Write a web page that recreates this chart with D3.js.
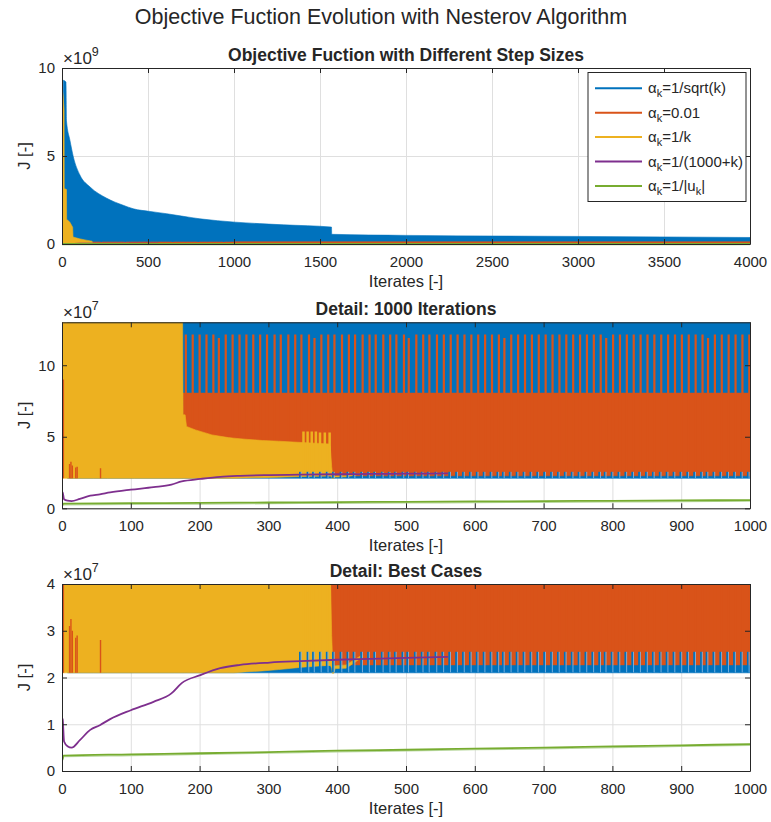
<!DOCTYPE html>
<html>
<head>
<meta charset="utf-8">
<script src="https://cdn.jsdelivr.net/npm/d3@7"></script>
<style>
body { margin: 0; background: #fff; }
svg text { font-family: "Liberation Sans", Arial, Helvetica, sans-serif; fill: #262626; }
</style>
</head>
<body>
<svg id="fig" width="771" height="822"></svg>
<script>
// envelopes of the dense oscillations: [iterate, lower J, upper J]
let blueEnv = [
  [8, 2.1e7, 9.3e9], [23, 2.1e7, 9.2e9], [26, 2.1e7, 7.0e9], [46, 2.1e7, 5.9e9],
  [66, 2.1e7, 4.95e9], [105, 2.1e7, 3.9e9], [163, 2.1e7, 3.24e9], [260, 2.1e7, 2.6e9],
  [356, 2.1e7, 2.2e9], [415, 2.1e7, 2.0e9], [512, 2.1e7, 1.85e9], [609, 2.1e7, 1.72e9],
  [802, 2.1e7, 1.43e9], [1008, 2.1e7, 1.24e9], [1287, 2.1e7, 1.09e9], [1567, 2.1e7, 0.96e9],
  [1568, 2.1e7, 0.55e9], [2000, 2.1e7, 0.49e9], [3000, 2.1e7, 0.43e9], [4000, 2.1e7, 0.37e9]
];
let orangeEnv = [
  [176, 2.27e7, 8.05e7], [1000, 2.27e7, 8.05e7], [1001, 2.27e7, 1.25e8], [4000, 2.27e7, 1.25e8]
];
let yellowEnv = [
  [0, 2.1e7, 8.8e9], [6, 2.1e7, 8.5e9], [12, 2.1e7, 7.6e9], [13, 2.1e7, 3.15e9],
  [26, 2.1e7, 3.1e9], [27, 2.1e7, 1.4e9], [45, 2.1e7, 1.25e9], [62, 2.1e7, 0.95e9],
  [64, 2.1e7, 0.4e9], [100, 2.1e7, 0.3e9], [140, 2.1e7, 0.22e9], [175, 2.1e7, 0.16e9],
  [176, 2.1e7, 6.53e7], [179, 2.1e7, 6.53e7], [181, 2.1e7, 5.72e7], [194, 2.1e7, 5.48e7],
  [218, 2.1e7, 5.13e7], [242, 2.1e7, 4.94e7], [250, 2.1e7, 4.9e7], [266, 2.12e7, 4.83e7],
  [291, 2.14e7, 4.74e7], [315, 2.17e7, 4.69e7], [349, 2.22e7, 4.6e7], [388, 2.26e7, 4.5e7],
  [390, 2.26e7, 4.3e7], [392, 2.2e7, 2.9e7], [393, 2.09e7, 2.5e7], [395, 2.09e7, 2.25e7],
  [397, 2.19e7, 2.25e7], [413, 2.2e7, 2.27e7], [436, 2.43e7, 2.48e7], [437, 2.45e7, 2.46e7]
];
// periodic peaks of the 0.01 step case: [iterate, peak J]
let orangeSpikes = [
  [180, 12.15e7], [190, 12.15e7], [200, 12.15e7], [210, 12.15e7], [220, 12.15e7], [228, 11.9e7],
  [238, 12.15e7], [248, 12.15e7], [258, 12.15e7], [268, 12.15e7], [278, 12.15e7], [288, 12.15e7],
  [298, 12.15e7], [309, 12.15e7], [318, 12.15e7], [329, 12.15e7], [339, 12.15e7], [348, 12.15e7],
  [359, 12.15e7], [367, 11.9e7], [377, 12.15e7], [387, 12.15e7], [396, 12.15e7], [407, 12.15e7],
  [417, 12.15e7], [426, 12.15e7], [437, 12.15e7], [447, 12.15e7], [456, 12.15e7], [467, 12.15e7],
  [477, 12.15e7], [486, 12.15e7], [497, 12.15e7], [504, 11.9e7], [515, 12.15e7], [525, 12.15e7],
  [534, 12.15e7], [545, 12.15e7], [555, 12.15e7], [565, 12.15e7], [575, 12.15e7], [585, 12.15e7],
  [595, 12.15e7], [605, 12.15e7], [615, 12.15e7], [625, 12.15e7], [635, 12.15e7], [643, 11.9e7],
  [653, 12.15e7], [663, 12.15e7], [673, 12.15e7], [683, 12.15e7], [693, 12.15e7], [703, 12.15e7],
  [713, 12.15e7], [723, 12.15e7], [733, 12.15e7], [743, 12.15e7], [753, 12.15e7], [763, 12.15e7],
  [773, 12.15e7], [783, 12.15e7], [791, 11.9e7], [801, 12.15e7], [811, 12.15e7], [821, 12.15e7],
  [831, 12.15e7], [841, 12.15e7], [851, 12.15e7], [861, 12.15e7], [871, 12.15e7], [881, 12.15e7],
  [891, 12.15e7], [901, 12.15e7], [911, 12.15e7], [921, 12.15e7], [931, 12.15e7], [939, 11.9e7],
  [949, 12.15e7], [959, 12.15e7], [969, 12.15e7], [979, 12.15e7], [989, 12.15e7], [999, 12.15e7]
];
let orangeEarly = [[2, 9.0e7], [11, 3.1e7], [13, 3.25e7], [15, 3.0e7], [20, 2.85e7], [22, 2.9e7], [56, 2.8e7]];
let yellowSpikes = [[351, 5.36e7], [357, 5.36e7], [363, 5.36e7], [369, 5.36e7], [375, 5.3e7], [382, 5.3e7], [389, 5.3e7]];
// small teeth of the 1/sqrt(k) case near the bottom of the band
let blueTeethLo = 2.11e7, blueTeethHi = 2.55e7, blueTeethFrom = 345;

let purpleIter = [0, 1, 3, 8, 14, 26, 41, 55, 70, 100, 133, 159, 174, 201, 230, 259, 302, 346, 400, 450, 500, 561];
let purpleJ = [1.13e7, 1.1e7, 0.63e7, 0.53e7, 0.5e7, 0.66e7, 0.88e7, 0.98e7, 1.11e7, 1.3e7, 1.48e7, 1.66e7,
  1.88e7, 2.05e7, 2.2e7, 2.27e7, 2.32e7, 2.35e7, 2.38e7, 2.4e7, 2.42e7, 2.44e7];
let greenIter = [0, 1, 2, 100, 200, 300, 400, 500, 600, 700, 800, 900, 1000, 4000];
let greenJ = [0.25e7, 0.26e7, 0.33e7, 0.355e7, 0.38e7, 0.405e7, 0.435e7, 0.455e7, 0.48e7, 0.5e7, 0.525e7, 0.55e7, 0.575e7, 1.0e7];

let legendNames = ["1/sqrt(k)", "0.01", "1/k", "1/(1000+k)", "1/|u"];
let xTicksFull = [0, 500, 1000, 1500, 2000, 2500, 3000, 3500, 4000];
let xTicksDetail = [0, 100, 200, 300, 400, 500, 600, 700, 800, 900, 1000];
let yTicks1 = [0, 5e9, 10e9];
let yTicks2 = [0, 5e7, 10e7];
let yTicks3 = [0, 1e7, 2e7, 3e7, 4e7];

let colors = ["#0072BD", "#D95319", "#EDB120", "#7E2F8E", "#77AC30"];
let L = 62, R = 750;
let panels = [
  {title: "Objective Fuction with Different Step Sizes", xmax: 4000, xt: xTicksFull, ymax: 10e9, yt: yTicks1, ex: 9, top: 68, bottom: 244},
  {title: "Detail: 1000 Iterations", xmax: 1000, xt: xTicksDetail, ymax: 13e7, yt: yTicks2, ex: 7, top: 322.3, bottom: 508.3},
  {title: "Detail: Best Cases", xmax: 1000, xt: xTicksDetail, ymax: 4e7, yt: yTicks3, ex: 7, top: 584, bottom: 771}
];

let svg = d3.select("#fig");
let defs = svg.append("defs");

svg.append("text").attr("x", 381).attr("y", 24).attr("text-anchor", "middle")
  .style("font-size", "21.5px").text("Objective Fuction Evolution with Nesterov Algorithm");

let style_axis = function(s) {
  s.select(".domain").attr("stroke", "#262626").attr("stroke-width", 1);
  s.selectAll(".tick line").attr("stroke", "#262626").attr("stroke-width", 1);
  s.selectAll(".tick text").style("font-size", "15px").attr("fill", "#262626");
};

panels.forEach(function(p, i) {
  let x = d3.scaleLinear().domain([0, p.xmax]).range([L, R]);
  let y = d3.scaleLinear().domain([0, p.ymax]).range([p.bottom, p.top]);
  let g = svg.append("g");
  let h = p.bottom - p.top;

  defs.append("clipPath").attr("id", "clip" + i).append("rect")
    .attr("x", L).attr("y", p.top).attr("width", R - L).attr("height", h + 1.5);

  //grid
  g.append("g").attr("transform", "translate(0," + p.bottom + ")")
    .call(d3.axisBottom(x).tickValues(p.xt).tickSize(-h).tickFormat(""))
    .call(function(s) { s.select(".domain").remove(); s.selectAll("line").attr("stroke", "#dfdfdf"); });
  g.append("g").attr("transform", "translate(" + L + ",0)")
    .call(d3.axisLeft(y).tickValues(p.yt).tickSize(-(R - L)).tickFormat(""))
    .call(function(s) { s.select(".domain").remove(); s.selectAll("line").attr("stroke", "#dfdfdf"); });

  let plot = g.append("g").attr("clip-path", "url(#clip" + i + ")");
  let band = d3.area().x(function(d) { return x(d[0]); })
    .y0(function(d) { return y(d[1]); }).y1(function(d) { return y(d[2]); });
  let drawBand = function(data, c, curve) {
    plot.append("path").datum(data).attr("d", band.curve(curve || d3.curveLinear))
      .attr("fill", c).attr("stroke", c).attr("stroke-width", 0.6);
  };
  let drawSpikes = function(data, lo, c, w) {
    plot.selectAll(null).data(data).enter().append("line")
      .attr("x1", function(d) { return x(d[0]); }).attr("x2", function(d) { return x(d[0]); })
      .attr("y1", y(lo)).attr("y2", function(d) { return y(d[1]); })
      .attr("stroke", c).attr("stroke-width", w);
  };

  drawBand(blueEnv, colors[0], d3.curveMonotoneX);
  drawBand(orangeEnv, colors[1]);
  drawSpikes(orangeSpikes, 2.27e7, colors[1], 2.2);
  drawBand(yellowEnv, colors[2]);
  drawSpikes(yellowSpikes, 2.25e7, colors[2], 2.5);
  drawSpikes(orangeEarly, 2.1e7, colors[1], 1.4);

  let teeth = orangeSpikes.filter(function(d) { return d[0] >= blueTeethFrom; });
  plot.selectAll(null).data(teeth).enter().append("rect")
    .attr("x", function(d) { return x(d[0]) - 2.4; }).attr("width", 1.8)
    .attr("y", y(blueTeethHi)).attr("height", y(blueTeethLo) - y(blueTeethHi))
    .attr("fill", colors[0]);
  plot.selectAll(null).data(teeth).enter().append("line")
    .attr("x1", function(d) { return x(d[0]) - 0.2; }).attr("x2", function(d) { return x(d[0]) - 0.2; })
    .attr("y1", y(blueTeethLo)).attr("y2", y(blueTeethHi))
    .attr("stroke", "#7fb6e3").attr("stroke-width", 0.9);

  let line = d3.line().curve(d3.curveMonotoneX)
    .x(function(d) { return x(d[0]); }).y(function(d) { return y(d[1]); });
  plot.append("path").datum(d3.zip(purpleIter, purpleJ)).attr("d", line)
    .attr("fill", "none").attr("stroke", colors[3]).attr("stroke-width", 1.8);
  plot.append("path").datum(d3.zip(greenIter, greenJ)).attr("d", line)
    .attr("transform", "translate(0,1.2)")
    .attr("fill", "none").attr("stroke", "#b9d89f").attr("stroke-width", 1.2);
  plot.append("path").datum(d3.zip(greenIter, greenJ)).attr("d", line)
    .attr("fill", "none").attr("stroke", colors[4]).attr("stroke-width", 1.8);

  //axes
  let scale = Math.pow(10, p.ex);
  g.append("g").attr("transform", "translate(0," + p.bottom + ")")
    .call(d3.axisBottom(x).tickValues(p.xt).tickSizeInner(-5).tickSizeOuter(0).tickPadding(12)
      .tickFormat(d3.format("d")))
    .call(style_axis);
  g.append("g").attr("transform", "translate(0," + p.top + ")")
    .call(d3.axisTop(x).tickValues(p.xt).tickSizeInner(-5).tickSizeOuter(0).tickFormat(""))
    .call(style_axis);
  g.append("g").attr("transform", "translate(" + L + ",0)")
    .call(d3.axisLeft(y).tickValues(p.yt).tickSizeInner(-5).tickSizeOuter(0).tickPadding(7)
      .tickFormat(function(v) { return d3.format("d")(Math.round(v / scale)); }))
    .call(style_axis);
  g.append("g").attr("transform", "translate(" + R + ",0)")
    .call(d3.axisRight(y).tickValues(p.yt).tickSizeInner(-5).tickSizeOuter(0).tickFormat(""))
    .call(style_axis);

  let ex = g.append("text").attr("x", 63).attr("y", p.top - 4.5).style("font-size", "17px").text("\u00d710");
  ex.append("tspan").attr("dy", -8).style("font-size", "12.5px").text(p.ex);

  g.append("text").attr("x", (L + R) / 2).attr("y", p.top - 7).attr("text-anchor", "middle")
    .style("font-size", "17.5px").style("font-weight", "bold").text(p.title);
  g.append("text").attr("x", (L + R) / 2).attr("y", p.bottom + 43).attr("text-anchor", "middle")
    .style("font-size", "16.5px").text("Iterates [-]");
  g.append("text").attr("transform", "translate(30," + ((p.top + p.bottom) / 2) + ") rotate(-90)")
    .attr("text-anchor", "middle").style("font-size", "16.5px").text("J [-]");

  if (i == 0) {
    let lg = g.append("g");
    lg.append("rect").attr("x", 588).attr("y", 72.5).attr("width", 158).attr("height", 129)
      .attr("fill", "#fff").attr("stroke", "#262626").attr("stroke-width", 1);
    legendNames.forEach(function(n, k) {
      let cy = 88.3 + k * 24.4;
      lg.append("line").attr("x1", 595).attr("x2", 642).attr("y1", cy).attr("y2", cy)
        .attr("stroke", colors[k]).attr("stroke-width", 2);
      let t = lg.append("text").attr("x", 648).attr("y", cy + 5).style("font-size", "15px");
      t.append("tspan").text("\u03b1");
      t.append("tspan").attr("dy", 4).style("font-size", "11px").text("k");
      t.append("tspan").attr("dy", -4).text("=" + n);
      if (k == 4) {
        t.append("tspan").attr("dy", 4).style("font-size", "11px").text("k");
        t.append("tspan").attr("dy", -4).text("|");
      }
    });
  }
});
</script>
</body>
</html>
